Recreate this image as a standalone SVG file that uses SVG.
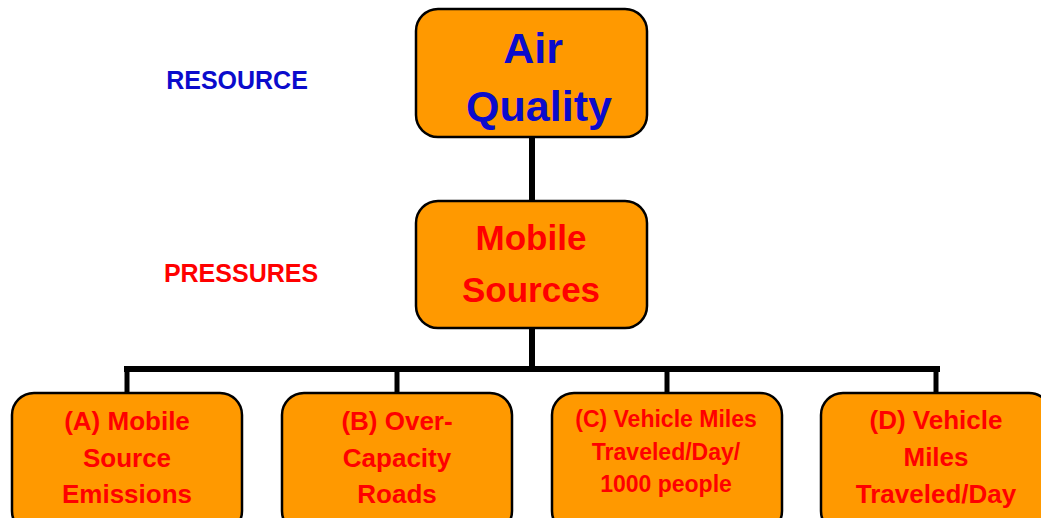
<svg xmlns="http://www.w3.org/2000/svg" width="1041" height="518" viewBox="0 0 1041 518">
<style>
.box{fill:#FF9900;stroke:#000;stroke-width:2.5}
.t{font-family:"Liberation Sans",Arial,sans-serif;font-weight:bold;text-anchor:middle}
.blue{fill:#0B0BCC}
.red{fill:#FF0000}
.conn{stroke:#000;fill:none;stroke-linecap:square}
</style>
<rect width="1041" height="518" fill="#fff"/>
<g id="labels">
<text class="t blue" x="237" y="89" font-size="25">RESOURCE</text>
<text class="t red" x="241" y="282" font-size="25">PRESSURES</text>
</g>
<g id="connectors">
<line class="conn" x1="532" y1="137" x2="532" y2="201" stroke-width="6"/>
<line class="conn" x1="532" y1="328" x2="532" y2="369" stroke-width="6"/>
<line class="conn" x1="127" y1="369" x2="937" y2="369" stroke-width="6"/>
<line class="conn" x1="127" y1="369" x2="127" y2="393" stroke-width="5"/>
<line class="conn" x1="397" y1="369" x2="397" y2="393" stroke-width="5"/>
<line class="conn" x1="667" y1="369" x2="667" y2="393" stroke-width="5"/>
<line class="conn" x1="936" y1="369" x2="936" y2="393" stroke-width="5"/>
</g>
<g id="air-quality">
<rect class="box" x="416" y="9" width="231" height="128" rx="22"/>
<text class="t blue" x="533" y="63" font-size="43">Air</text>
<text class="t blue" x="539" y="121" font-size="43">Quality</text>
</g>
<g id="mobile-sources">
<rect class="box" x="416" y="201" width="231" height="127" rx="22"/>
<text class="t red" x="531" y="250" font-size="35">Mobile</text>
<text class="t red" x="531" y="302" font-size="35">Sources</text>
</g>
<g id="node-a">
<rect class="box" x="12" y="393" width="230" height="140" rx="22"/>
<text class="t red" x="127" y="430" font-size="26">(A) Mobile</text>
<text class="t red" x="127" y="467" font-size="26">Source</text>
<text class="t red" x="127" y="503" font-size="26">Emissions</text>
</g>
<g id="node-b">
<rect class="box" x="282" y="393" width="230" height="140" rx="22"/>
<text class="t red" x="397" y="430" font-size="26">(B) Over-</text>
<text class="t red" x="397" y="467" font-size="26">Capacity</text>
<text class="t red" x="397" y="503" font-size="26">Roads</text>
</g>
<g id="node-c">
<rect class="box" x="552" y="393" width="230" height="140" rx="22"/>
<text class="t red" x="666" y="427" font-size="23">(C) Vehicle Miles</text>
<text class="t red" x="666" y="460" font-size="23">Traveled/Day/</text>
<text class="t red" x="666" y="492" font-size="23">1000 people</text>
</g>
<g id="node-d">
<rect class="box" x="821" y="393" width="230" height="140" rx="22"/>
<text class="t red" x="936" y="429" font-size="26">(D) Vehicle</text>
<text class="t red" x="936" y="466" font-size="26">Miles</text>
<text class="t red" x="936" y="503" font-size="26">Traveled/Day</text>
</g>
</svg>
